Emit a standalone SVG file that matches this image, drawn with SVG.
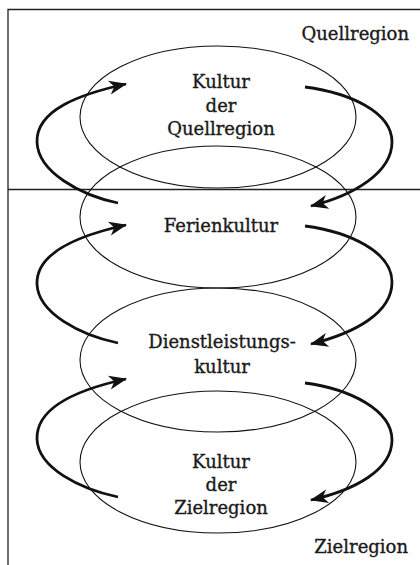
<svg xmlns="http://www.w3.org/2000/svg" width="420" height="565" viewBox="0 0 420 565">
  <style>
    .frame { stroke: #222; stroke-width: 1.3; fill: none; }
    .node ellipse { fill: none; stroke: #111; stroke-width: 1.1; }
    .label, .region { font-family: "DejaVu Serif", "Liberation Serif", serif; font-size: 18px; fill: #1a1a1a; stroke: #1a1a1a; stroke-width: 0.35; }
    .label { text-anchor: middle; }
    .region { text-anchor: end; }
    .flow { fill: none; stroke: #111; stroke-width: 2.8; marker-end: url(#head); }
  </style>
  <defs>
    <marker id="head" markerUnits="userSpaceOnUse" markerWidth="22" markerHeight="18" viewBox="-19 -9 21 18" refX="0" refY="0" orient="auto">
      <path d="M1,0 L-17,-7 L-12,0 L-17,7 Z" fill="#111"/>
    </marker>
  </defs>

  <!-- region frame and divider -->
  <g id="frame">
    <path class="frame" d="M8,565 L8,9.5 L420,9.5"/>
    <line class="frame" x1="8" y1="189.5" x2="420" y2="189.5"/>
    <text class="region" x="409" y="40">Quellregion</text>
    <text class="region" x="408" y="553">Zielregion</text>
  </g>

  <!-- culture ellipses -->
  <g id="kultur-quellregion" class="node">
    <ellipse cx="218" cy="117" rx="138" ry="71"/>
    <text class="label" x="221" y="88">Kultur</text>
    <text class="label" x="221" y="112">der</text>
    <text class="label" x="221" y="135">Quellregion</text>
  </g>
  <g id="ferienkultur" class="node">
    <ellipse cx="218" cy="217" rx="138" ry="71"/>
    <text class="label" x="221" y="232">Ferienkultur</text>
  </g>
  <g id="dienstleistungskultur" class="node">
    <ellipse cx="218" cy="360" rx="138" ry="72"/>
    <text class="label" x="222" y="348">Dienstleistungs-</text>
    <text class="label" x="222" y="373">kultur</text>
  </g>
  <g id="kultur-zielregion" class="node">
    <ellipse cx="218" cy="462" rx="138" ry="71"/>
    <text class="label" x="221" y="468">Kultur</text>
    <text class="label" x="221" y="491">der</text>
    <text class="label" x="221" y="514">Zielregion</text>
  </g>

  <!-- exchange loops between neighbouring cultures -->
  <g id="connectors">
    <path class="flow" d="M118,203 C80,195 38,172 37,142 C36,110 80,94 126,84"/>
    <path class="flow" d="M305,87 C350,93 392,112 392,142 C392,172 355,195 311,206"/>
    <path class="flow" d="M118,343 C80,335 38,313 37,284 C36,252 80,235 126,225"/>
    <path class="flow" d="M305,226 C350,232 392,252 392,282 C392,313 355,333 311,344"/>
    <path class="flow" d="M118,497 C80,489 38,468 37,439 C36,406 80,389 126,379"/>
    <path class="flow" d="M305,383 C350,389 392,410 392,440 C392,470 355,490 311,500"/>
  </g>
</svg>
